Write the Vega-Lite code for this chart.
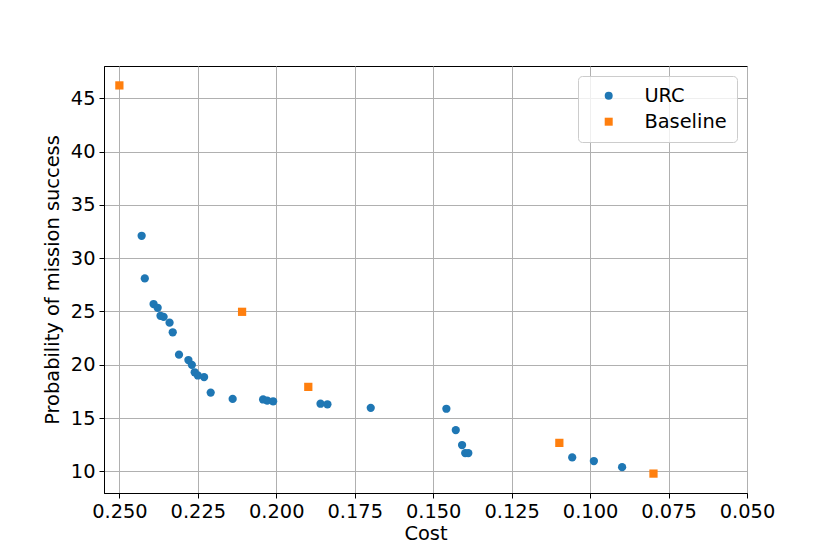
{
  "$schema": "https://vega.github.io/schema/vega-lite/v6.json",
  "width": 643,
  "height": 427,
  "autosize": {"type": "none"},
  "padding": {"left": 104, "top": 66, "right": 83, "bottom": 61},
  "background": "white",
  "config": {
    "font": "DejaVu Sans",
    "view": {"stroke": "black", "strokeWidth": 1},
    "axis": {
      "labelFont": "DejaVu Sans",
      "titleFont": "DejaVu Sans",
      "labelFontSize": 19.4,
      "titleFontSize": 19.4,
      "labelColor": "black",
      "titleColor": "black",
      "titleFontWeight": "normal",
      "domainColor": "black",
      "tickColor": "black",
      "tickSize": 5,
      "labelPadding": 4,
      "labelOverlap": false,
      "labelBound": false,
      "labelFlush": false,
      "grid": true,
      "gridColor": "#b0b0b0",
      "gridWidth": 1
    },
    "legend": {
      "labelFont": "DejaVu Sans",
      "labelFontSize": 19.4,
      "labelColor": "black"
    }
  },
  "data": {
    "values": [
      {"cost": 0.2429, "prob": 32.1, "series": "URC"},
      {"cost": 0.2419, "prob": 28.1, "series": "URC"},
      {"cost": 0.2391, "prob": 25.7, "series": "URC"},
      {"cost": 0.2378, "prob": 25.35, "series": "URC"},
      {"cost": 0.2369, "prob": 24.6, "series": "URC"},
      {"cost": 0.2359, "prob": 24.5, "series": "URC"},
      {"cost": 0.2340, "prob": 23.95, "series": "URC"},
      {"cost": 0.2330, "prob": 23.05, "series": "URC"},
      {"cost": 0.2310, "prob": 20.95, "series": "URC"},
      {"cost": 0.2280, "prob": 20.45, "series": "URC"},
      {"cost": 0.2269, "prob": 20.0, "series": "URC"},
      {"cost": 0.2260, "prob": 19.3, "series": "URC"},
      {"cost": 0.2250, "prob": 19.0, "series": "URC"},
      {"cost": 0.2230, "prob": 18.85, "series": "URC"},
      {"cost": 0.2209, "prob": 17.4, "series": "URC"},
      {"cost": 0.2139, "prob": 16.8, "series": "URC"},
      {"cost": 0.2042, "prob": 16.75, "series": "URC"},
      {"cost": 0.2029, "prob": 16.65, "series": "URC"},
      {"cost": 0.2010, "prob": 16.58, "series": "URC"},
      {"cost": 0.1859, "prob": 16.35, "series": "URC"},
      {"cost": 0.1837, "prob": 16.3, "series": "URC"},
      {"cost": 0.1699, "prob": 15.97, "series": "URC"},
      {"cost": 0.1458, "prob": 15.88, "series": "URC"},
      {"cost": 0.1428, "prob": 13.88, "series": "URC"},
      {"cost": 0.1408, "prob": 12.48, "series": "URC"},
      {"cost": 0.1398, "prob": 11.72, "series": "URC"},
      {"cost": 0.1388, "prob": 11.72, "series": "URC"},
      {"cost": 0.1057, "prob": 11.32, "series": "URC"},
      {"cost": 0.0988, "prob": 10.98, "series": "URC"},
      {"cost": 0.0898, "prob": 10.4, "series": "URC"},
      {"cost": 0.2500, "prob": 46.2, "series": "Baseline"},
      {"cost": 0.2109, "prob": 24.97, "series": "Baseline"},
      {"cost": 0.1898, "prob": 17.93, "series": "Baseline"},
      {"cost": 0.1098, "prob": 12.68, "series": "Baseline"},
      {"cost": 0.0798, "prob": 9.8, "series": "Baseline"}
    ]
  },
  "mark": {"type": "point", "filled": true, "opacity": 1},
  "encoding": {
    "x": {
      "field": "cost",
      "type": "quantitative",
      "title": "Cost",
      "scale": {"domain": [0.05, 0.2549], "reverse": true, "nice": false, "zero": false},
      "axis": {
        "values": [0.25, 0.225, 0.2, 0.175, 0.15, 0.125, 0.1, 0.075, 0.05],
        "format": ".3f",
        "titlePadding": 4
      }
    },
    "y": {
      "field": "prob",
      "type": "quantitative",
      "title": "Probability of mission success",
      "scale": {"domain": [7.98, 48.02], "nice": false, "zero": false},
      "axis": {
        "values": [10, 15, 20, 25, 30, 35, 40, 45],
        "titlePadding": 8
      }
    },
    "color": {
      "field": "series",
      "type": "nominal",
      "scale": {"domain": ["URC", "Baseline"], "range": ["#1f77b4", "#ff7f0e"]},
      "legend": {
        "title": null,
        "orient": "top-right",
        "offset": 10,
        "padding": 10,
        "strokeColor": "#cccccc",
        "fillColor": "rgba(255,255,255,0.8)",
        "cornerRadius": 4,
        "symbolSize": 64,
        "symbolOffset": 11,
        "labelOffset": 26,
        "rowPadding": 5,
        "symbolOpacity": 1
      }
    },
    "shape": {
      "field": "series",
      "type": "nominal",
      "scale": {"domain": ["URC", "Baseline"], "range": ["circle", "square"]},
      "legend": null
    },
    "size": {"value": 68}
  }
}
